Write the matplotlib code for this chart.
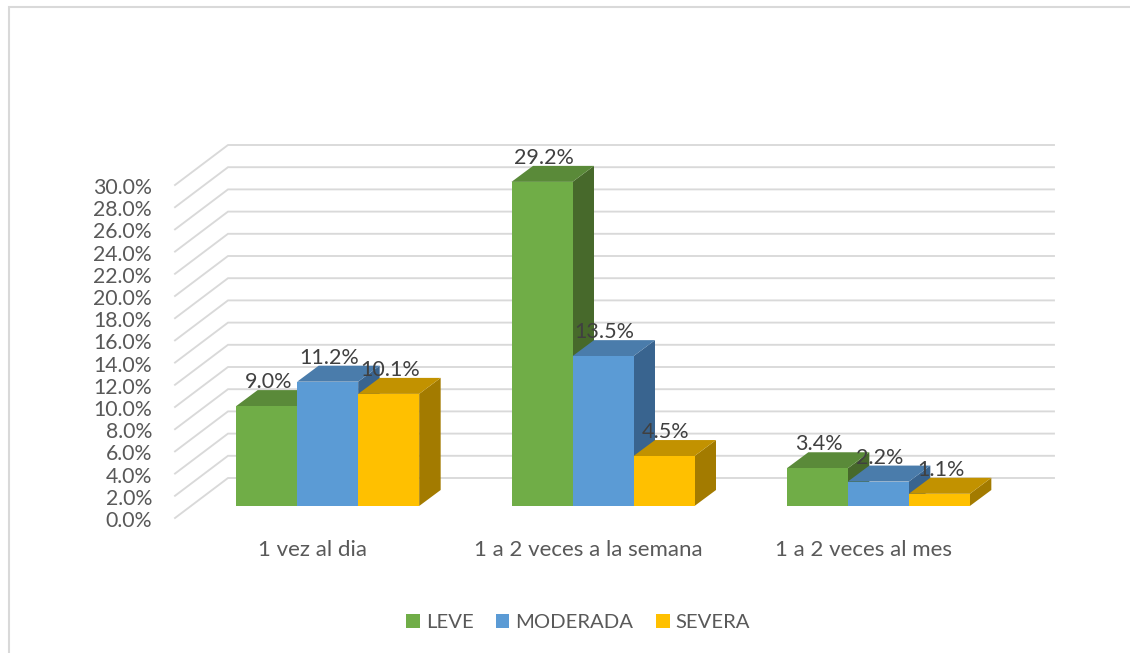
import matplotlib
matplotlib.use("Agg")
import matplotlib.pyplot as plt
from matplotlib.patches import Polygon, Patch
from matplotlib.lines import Line2D
from matplotlib.ticker import FuncFormatter
from matplotlib.transforms import ScaledTranslation

categories = ["1 vez al dia", "1 a 2 veces a la semana", "1 a 2 veces al mes"]
series_names = ["LEVE", "MODERADA", "SEVERA"]
leve = [9.0, 29.2, 3.4]
moderada = [11.2, 13.5, 2.2]
severa = [10.1, 4.5, 1.1]
y_ticks = list(range(0, 31, 2))

front_colors = ["#70AD47", "#5B9BD5", "#FFC000"]
top_colors = ["#5A8A39", "#4A7CAB", "#C29200"]
side_colors = ["#47692B", "#39648F", "#A37B00"]

plt.rcParams["font.family"] = ["Lato", "DejaVu Sans"]

W, H = 1130, 653
fig = plt.figure(figsize=(W / 100, H / 100), dpi=100, facecolor="white")
L, R, B, T = 175, 1001, 518, 185
ax = fig.add_axes([L / W, 1 - B / H, (R - L) / W, (B - T) / H])
ax.set_xlim(-0.5, 2.5)
ax.set_ylim(0, 30)
for s in ax.spines.values():
    s.set_visible(False)
ax.patch.set_visible(False)

PX = 3 / (R - L)
PY = 30 / (B - T)
wall_dx, wall_dy = 53 * PX, 40 * PY
base_dx, base_dy = 15 * PX, 12 * PY
bar_dx, bar_dy = 21.5 * PX, 16 * PY
bar_w = 61 * PX

grid = "#D9D9D9"
for v in y_ticks:
    ax.plot([-0.5, -0.5 + wall_dx, 2.5 + wall_dx], [v, v + wall_dy, v + wall_dy],
            color=grid, lw=1.35, clip_on=False, zorder=1, solid_joinstyle="miter")

all_series = [leve, moderada, severa]
for j, vals in enumerate(all_series):
    for i, v in enumerate(vals):
        x0 = i + base_dx + (j - 1.5) * bar_w
        x1 = x0 + bar_w
        y0 = base_dy
        y1 = base_dy + v
        z = 3 + j * 0.1
        ax.add_patch(Polygon([(x1, y0), (x1 + bar_dx, y0 + bar_dy), (x1 + bar_dx, y1 + bar_dy), (x1, y1)],
                             fc=side_colors[j], ec="none", clip_on=False, zorder=z))
        ax.add_patch(Polygon([(x0, y1), (x1, y1), (x1 + bar_dx, y1 + bar_dy), (x0 + bar_dx, y1 + bar_dy)],
                             fc=top_colors[j], ec="none", clip_on=False, zorder=z))
        ax.add_patch(Polygon([(x0, y0), (x1, y0), (x1, y1), (x0, y1)],
                             fc=front_colors[j], ec="none", clip_on=False, zorder=z + 0.01))
        ax.annotate(f"{v:.1f}%", xy=((x0 + x1) / 2, y1), xytext=(1.5, 24), textcoords="offset pixels",
                    ha="center", va="center", fontsize=15.5, color="#404040", zorder=10, annotation_clip=False)

ax.set_xticks(range(3), categories)
ax.set_yticks(y_ticks)
ax.yaxis.set_major_formatter(FuncFormatter(lambda v, _: f"{v:.1f}%"))
ax.tick_params(axis="x", length=0, labelsize=16, labelcolor="#595959", pad=15.5)
ax.tick_params(axis="y", length=0, labelsize=15.3, labelcolor="#595959", pad=16.5)
shift = ScaledTranslation(0, -1.0 / 100, fig.dpi_scale_trans)
for lab in ax.get_yticklabels():
    lab.set_transform(lab.get_transform() + shift)

handles = [Patch(fc=c, ec="none") for c in front_colors]
fig.legend(handles, series_names, loc="center", bbox_to_anchor=(578 / W, 1 - 622.5 / H), ncol=3,
           frameon=False, fontsize=14.6, labelcolor="#595959", handlelength=0.68, handleheight=0.68,
           handletextpad=0.3, columnspacing=1.1)

fig.add_artist(Line2D([9 / W, 9 / W, 1], [0, 1 - 7 / H, 1 - 7 / H], transform=fig.transFigure,
                      color="#D9D9D9", lw=1.5, solid_joinstyle="miter"))

fig.savefig("out.png", dpi=100, facecolor="white")
